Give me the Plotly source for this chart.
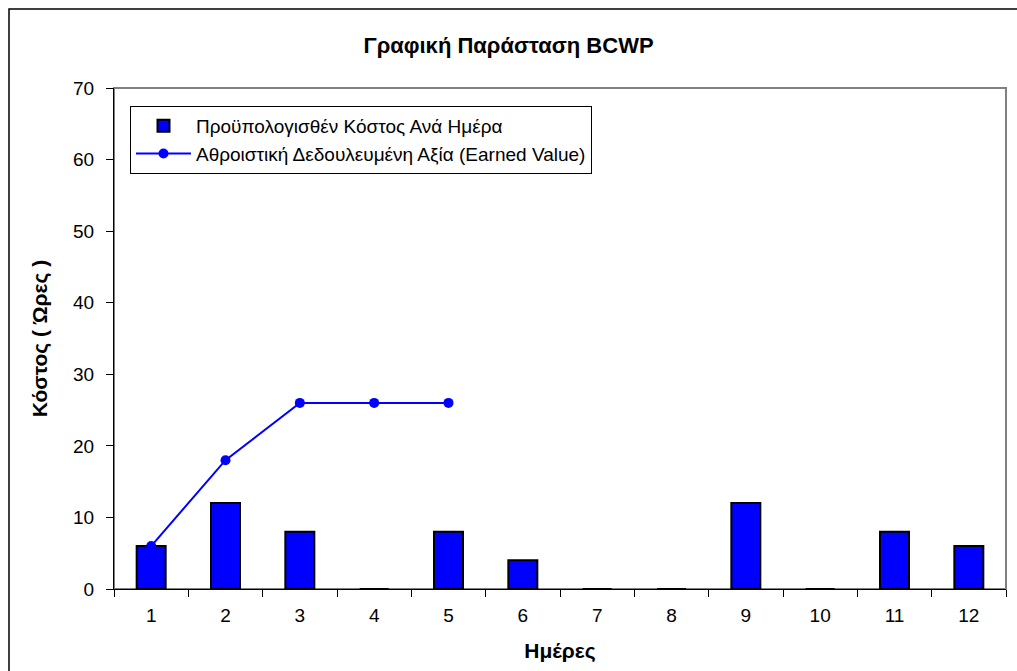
import plotly.graph_objects as go

days = ["1", "2", "3", "4", "5", "6", "7", "8", "9", "10", "11", "12"]
budget_per_day = [6, 12, 8, 0, 8, 4, 0, 0, 12, 0, 8, 6]
ev_days = ["1", "2", "3", "4", "5"]
earned_value = [6, 18, 26, 26, 26]

title_text = "Γραφική Παράσταση BCWP"
bar_name = "Προϋπολογισθέν Κόστος Ανά Ημέρα"
line_name = "Αθροιστική Δεδουλευμένη Αξία (Earned Value)"
x_title = "Ημέρες"
y_title = "Κόστος ( Ώρες )"

W, H = 1017, 671
L, R, T, B = 114, 11, 88, 82
pw = W - L - R
ph = H - T - B

fig = go.Figure()
fig.add_trace(go.Bar(
    x=days, y=budget_per_day, name=bar_name,
    marker=dict(color="#0000FF", line=dict(color="black", width=2)),
))
fig.add_trace(go.Scatter(
    x=ev_days, y=earned_value, name=line_name, mode="lines+markers",
    line=dict(color="#0000FF", width=2),
    marker=dict(color="#0000FF", size=10),
))

font = "Liberation Sans, Arial, sans-serif"
fig.update_layout(
    width=W, height=H,
    margin=dict(l=L, r=R, t=T, b=B),
    paper_bgcolor="white", plot_bgcolor="white",
    font=dict(family=font, size=19, color="black"),
    bargap=0.61,
    title=dict(text="<b>" + title_text + "</b>", x=0.5, xref="container",
               y=1 - 45 / H, yref="container", yanchor="middle",
               font=dict(size=22, family=font)),
    legend=dict(x=(130 - L) / pw, y=1 - (106 - T) / ph, xanchor="left", yanchor="top",
                bordercolor="black", borderwidth=1, bgcolor="white",
                font=dict(size=19), tracegroupgap=0, itemwidth=55),
    showlegend=True,
    hovermode=False,
    xaxis=dict(type="category", categoryorder="array", categoryarray=days,
               range=[-0.5, len(days) - 0.5],
               showline=True, linecolor="black", linewidth=1,
               ticks="outside", tickson="boundaries", ticklen=7, tickcolor="black",
               ticklabelstandoff=9,
               showgrid=False, zeroline=False,
               title=dict(text="<b>" + x_title + "</b>", standoff=18,
                          font=dict(size=21)),
               tickfont=dict(size=19)),
    yaxis=dict(range=[0, 70], dtick=10, showline=True, linecolor="black", linewidth=1,
               ticks="outside", ticklen=7, tickcolor="black",
               ticklabelstandoff=8,
               showgrid=False, zeroline=False,
               title=dict(text="<b>" + y_title + "</b>", standoff=19,
                          font=dict(size=21)),
               tickfont=dict(size=19)),
    shapes=[
        dict(type="rect", xref="paper", yref="paper", x0=0, x1=1, y0=0, y1=1,
             line=dict(color="#808080", width=2), layer="below"),
        dict(type="rect", xref="paper", yref="paper",
             x0=(9 - L) / pw, x1=(W + 20 - L) / pw,
             y0=-(H + 20 - T - ph) / ph, y1=1 + (T - 9) / ph,
             line=dict(color="black", width=1.5), layer="below"),
    ],
)

fig.write_html("out.html",
               config={"displayModeBar": False},
               post_script="document.body.style.margin='0';document.body.style.overflow='hidden';")
